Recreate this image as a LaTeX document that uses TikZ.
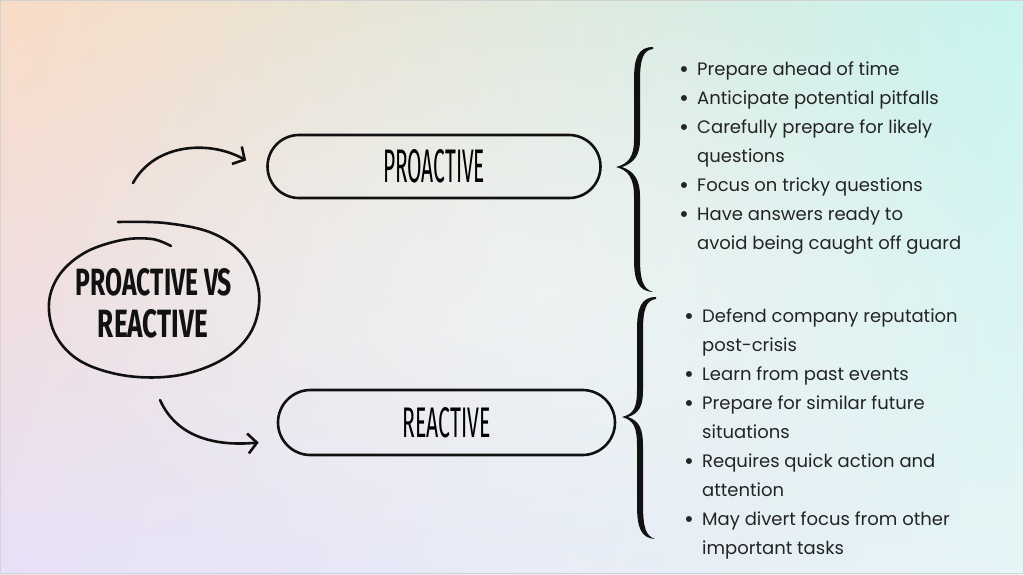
\documentclass[tikz,border=0pt]{standalone}
\usepackage{fontspec}
\setmainfont{Poppins}
\newfontfamily\handfont{Fira Sans}
\usetikzlibrary{shapes.misc,shapes.geometric,arrows.meta,fadings,shadings}
\tikzfading[name=glow, inner color=transparent!0, outer color=transparent!100]
\definecolor{bgtl}{HTML}{F9DCC6}
\definecolor{bgtr}{HTML}{C8F4F0}
\definecolor{bgbl}{HTML}{E8E0F8}
\definecolor{bgbr}{HTML}{E6F5F6}
\definecolor{txt}{HTML}{242424}
\definecolor{ink}{HTML}{111111}
\newcommand\bl{\makebox[18pt][l]{\fontsize{24}{24}\selectfont\raisebox{-2pt}{\textbullet}}}
\newcommand\nb{\hspace*{18pt}}
\begin{document}
\begin{tikzpicture}[x=1pt,y=-1pt,line cap=round,line join=round]
\tikzset{
  inkline/.style={draw=ink, line width=2.6pt},
  pill/.style={rounded rectangle, inkline, inner sep=0},
  hand/.style={inner sep=0, text=ink},
  arr/.style={inkline, -{Straight Barb[length=9pt,width=20pt]}},
  list/.style={inner sep=0, anchor=north west, align=left, font=\fontsize{18}{29}\selectfont, text=txt},
}
\useasboundingbox (0,0) rectangle (1024,574);
% background
\shade[upper left=bgtl, upper right=bgtr, lower left=bgbl, lower right=bgbr] (0,0) rectangle (1024,574);
\fill[white, path fading=glow, opacity=0.4] (540,290) ellipse (520 and 320);
\draw[gray!35, line width=1pt] (0.5,0.5) rectangle (1023.5,573.5);

% central hand-drawn ellipse
\node[ellipse, minimum width=210pt, minimum height=156pt, inner sep=0] (main) at (153,300) {};
\draw[inkline] plot[smooth, tension=0.6] coordinates {(118,222) (165,223) (212,233) (244,256) (259,292) (252,330) (225,358) (180,375) (128,376) (82,362) (56,336) (49,303) (60,274) (86,252) (122,240) (152,239) (171,246)};
\node[hand] (mainA) at (154,282) {\resizebox{156pt}{27pt}{\handfont\bfseries PROACTIVE VS}};
\node[hand] (mainB) at (153,324) {\resizebox{110pt}{28pt}{\handfont\bfseries REACTIVE}};

% pills
\node[pill, minimum width=333pt, minimum height=63pt] (pro) at (434,166.5) {\resizebox{102pt}{33pt}{\handfont PROACTIVE}};
\node[pill, minimum width=337pt, minimum height=65pt] (rea) at (446.5,422.5) {\resizebox{88pt}{30pt}{\handfont REACTIVE}};

% arrows
\coordinate (a1) at (133,183);
\coordinate (a2) at (160,400);
\draw[arr] (a1) .. controls (155,143) and (210,140) .. ([xshift=-20pt,yshift=6pt]pro.west);
\draw[arr] (a2) .. controls (178,440) and (220,446) .. ([xshift=-18pt,yshift=-20pt]rea.west);

% braces
\fill[ink] (653,47) .. controls (638,47) and (634,58) .. (634,80) -- (634,140) .. controls (634,157) and (628,164) .. (616,167)
  .. controls (628,170) and (634,178) .. (634,196) -- (634,258) .. controls (634,281) and (638,291) .. (653,292)
  .. controls (643,289) and (640,280) .. (640,258) -- (640,196) .. controls (640,180) and (634,171) .. (622,167)
  .. controls (634,163) and (640,155) .. (640,140) -- (640,80) .. controls (640,60) and (643,50) .. (653,49) -- cycle;
\fill[ink] (656,297) .. controls (641,297) and (637,308) .. (637,330) -- (637,390) .. controls (637,407) and (634,414) .. (622,417)
  .. controls (634,420) and (637,428) .. (637,446) -- (637,505) .. controls (637,528) and (641,538) .. (655,539)
  .. controls (646,536) and (643,528) .. (643,505) -- (643,446) .. controls (643,430) and (640,421) .. (628,417)
  .. controls (640,413) and (643,405) .. (643,390) -- (643,330) .. controls (643,310) and (646,300) .. (656,299) -- cycle;

% lists
\node[list] (plist) at (679,62) {\bl Prepare ahead of time\\
\bl Anticipate potential pitfalls\\
\bl Carefully prepare for likely\\
\nb questions\\
\bl Focus on tricky questions\\
\bl Have answers ready to\\
\nb avoid being caught off guard};
\node[list] (rlist) at (684,309) {\bl Defend company reputation\\
\nb post-crisis\\
\bl Learn from past events\\
\bl Prepare for similar future\\
\nb situations\\
\bl Requires quick action and\\
\nb attention\\
\bl May divert focus from other\\
\nb important tasks};
\end{tikzpicture}
\end{document}
